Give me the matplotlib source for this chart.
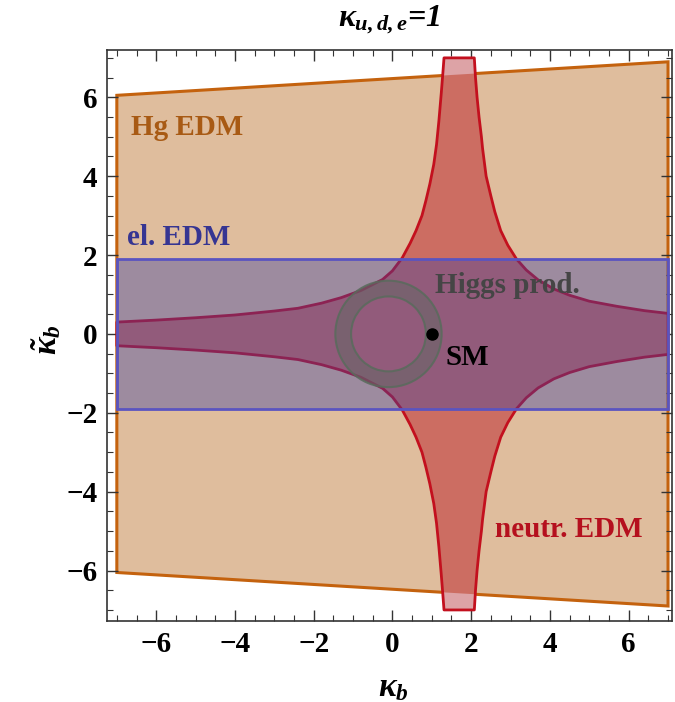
import matplotlib
matplotlib.use("Agg")
import matplotlib.pyplot as plt
from matplotlib.patches import Polygon, Rectangle, Wedge

plt.rcParams['font.family'] = ['Liberation Serif', 'DejaVu Serif']
plt.rcParams['font.weight'] = 'bold'
plt.rcParams['mathtext.fontset'] = 'custom'
plt.rcParams['mathtext.it'] = 'Liberation Serif:bold:italic'
plt.rcParams['mathtext.rm'] = 'Liberation Serif:bold:italic'
plt.rcParams['mathtext.bf'] = 'Liberation Serif:bold'

# Hg EDM allowed region (trapezoid): edges at x=-7 and x=7
hg_x = [-7.0, 7.0]
hg_top = [6.05, 6.9]
hg_bottom = [-6.05, -6.9]

# electron EDM band
el_x = [-7.0, 7.0]
el_y = [-1.9, 1.9]

# neutron EDM region boundary (upper half, mirrored below)
nl_x = [-7.0, -6.0, -5.0, -4.0, -3.0, -2.4, -1.8, -1.3, -0.8, -0.25, 0.0, 0.25,
        0.45, 0.6, 0.75, 0.85, 0.95, 1.05, 1.12, 1.18, 1.24, 1.28, 1.31]
nl_y = [0.30, 0.35, 0.41, 0.48, 0.58, 0.65, 0.78, 0.92, 1.10, 1.38, 1.60, 1.93,
        2.30, 2.62, 3.0, 3.38, 3.8, 4.3, 4.8, 5.4, 6.1, 6.6, 7.0]
nr_x = [2.08, 2.11, 2.15, 2.2, 2.26, 2.29, 2.38, 2.5, 2.6, 2.75, 2.93, 3.15,
        3.4, 3.7, 4.1, 4.5, 5.0, 5.7, 6.4, 7.0]
nr_y = [7.0, 6.5, 6.0, 5.5, 5.0, 4.7, 4.0, 3.5, 3.1, 2.62, 2.25, 1.9,
        1.62, 1.37, 1.14, 0.98, 0.83, 0.70, 0.59, 0.52]

# Higgs production ring and SM point
ring_center = (-0.1, 0.0)
ring_r_in = 0.95
ring_r_out = 1.35
sm_point = (1.0, 0.0)

fig = plt.figure(figsize=(6.75, 7.02), dpi=100)
ax = fig.add_axes([0.1585, 0.1154, 0.837, 0.8134])
ax.set_xlim(-7.25, 7.1)
ax.set_ylim(-7.28, 7.2)

# Hg EDM
hg_pts = [(hg_x[0], hg_bottom[0]), (hg_x[1], hg_bottom[1]),
          (hg_x[1], hg_top[1]), (hg_x[0], hg_top[0])]
hg = Polygon(hg_pts, closed=True, facecolor='#dfbd9d', edgecolor='#c4620e',
             linewidth=2.2, zorder=1)
ax.add_patch(hg)

# neutron EDM
upper = list(zip(nl_x, nl_y)) + list(zip(nr_x, nr_y))
lower = [(x, -y) for x, y in upper]
n_pts = upper + lower[::-1]
n_light = Polygon(n_pts, closed=True, facecolor='#dda3a6', edgecolor='none', zorder=2)
ax.add_patch(n_light)
n_dark = Polygon(n_pts, closed=True, facecolor='#cc6d62', edgecolor='none', zorder=2.1)
ax.add_patch(n_dark)
n_dark.set_clip_path(hg)
n_edge = Polygon(n_pts, closed=True, facecolor='none', edgecolor='#c3101e',
                 linewidth=2.0, joinstyle='round', zorder=2.5)
ax.add_patch(n_edge)

# electron EDM
el = Rectangle((el_x[0], el_y[0]), el_x[1] - el_x[0], el_y[1] - el_y[0],
               facecolor=(0.23, 0.25, 0.64, 0.4), edgecolor='#5a54c0',
               linewidth=2.0, zorder=3)
ax.add_patch(el)

# Higgs production ring
ring = Wedge(ring_center, ring_r_out, 0, 360, width=ring_r_out - ring_r_in,
             facecolor=(0.40, 0.40, 0.40, 0.55), edgecolor=(0.35, 0.42, 0.36, 0.85),
             linewidth=1.5, zorder=3.5)
ax.add_patch(ring)

ax.plot(*sm_point, 'o', color='black', markersize=8, zorder=5)

ax.text(-6.65, 5.23, 'Hg EDM', color='#a85a14', fontsize=21, fontweight='bold',
        va='center', ha='left', zorder=6)
ax.text(-6.73, 2.44, 'el. EDM', color='#363592', fontsize=21, fontweight='bold',
        va='center', ha='left', zorder=6)
ax.text(1.09, 1.22, 'Higgs prod.', color='#454545', fontsize=21, fontweight='bold',
        va='center', ha='left', zorder=6)
ax.text(1.35, -0.61, 'SM', color='black', fontsize=21, fontweight='bold',
        va='center', ha='left', zorder=6)
ax.text(2.61, -4.95, 'neutr. EDM', color='#b5101e', fontsize=21, fontweight='bold',
        va='center', ha='left', zorder=6)

ax.set_xticks([-6, -4, -2, 0, 2, 4, 6])
ax.set_yticks([-6, -4, -2, 0, 2, 4, 6])
ax.set_xticklabels(['\u22126', '\u22124', '\u22122', '0', '2', '4', '6'])
ax.set_yticklabels(['\u22126', '\u22124', '\u22122', '0', '2', '4', '6'])
ax.set_xticks([v / 2 for v in range(-14, 15)], minor=True)
ax.set_yticks([v / 2 for v in range(-14, 15)], minor=True)
ax.tick_params(which='both', direction='in', top=True, right=True, color='#333333')
ax.tick_params(which='major', length=8, width=1, labelsize=21, pad=7)
ax.tick_params(which='minor', length=4, width=0.8)
for s in ax.spines.values():
    s.set_color('#333333')
    s.set_linewidth(1.2)

fig.text(0.576, 0.972, r'$\kappa_{u,d,e}$=1', fontsize=23, style='italic',
         fontweight='bold', ha='center', va='center')
fig.text(0.582, 0.02, r'$\kappa_b$', fontsize=24, ha='center', va='center')
fig.text(0.068, 0.516, r'$\tilde{\kappa}_b$', fontsize=24, ha='center', va='center',
         rotation=90)

plt.savefig("out.png", dpi=100)
